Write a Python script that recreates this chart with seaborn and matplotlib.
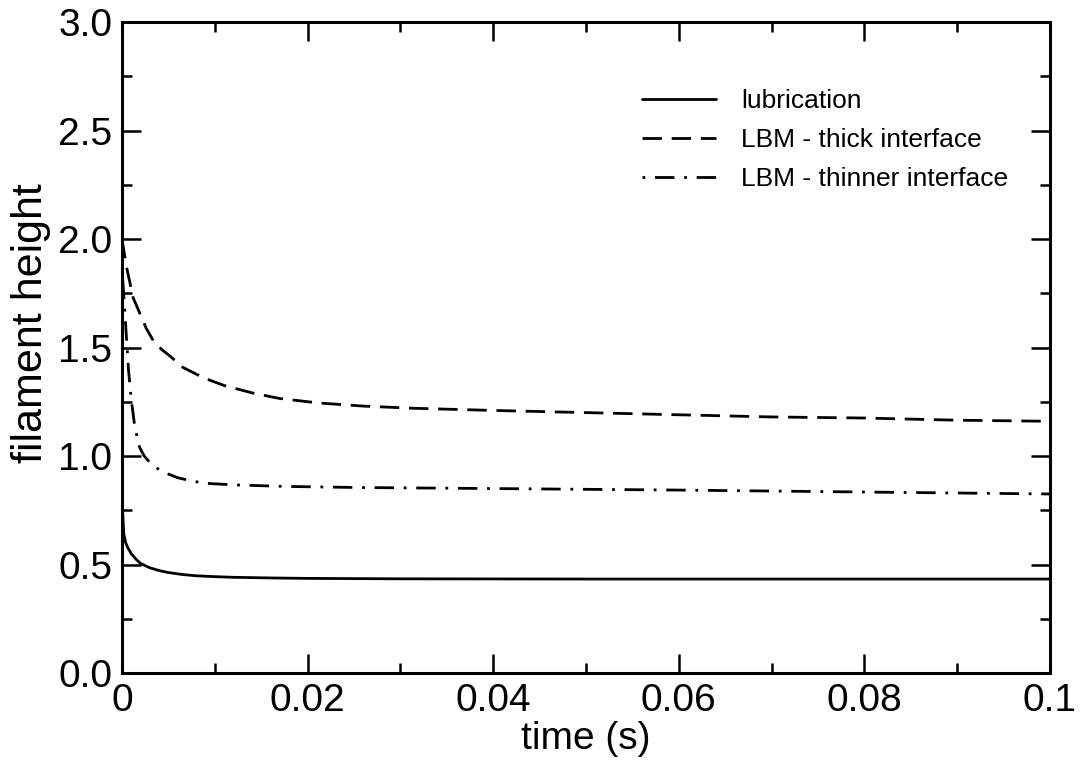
import numpy as np
import pandas as pd
import matplotlib
matplotlib.use("Agg")
import matplotlib.pyplot as plt
import seaborn as sns
from matplotlib.ticker import MultipleLocator

# datos
t_lub = [0, 0.0001, 0.0002, 0.0004, 0.0006, 0.001, 0.0015, 0.002, 0.003, 0.004,
         0.005, 0.0065, 0.008, 0.01, 0.012, 0.016, 0.02, 0.03, 0.05, 0.1]
h_lub = [0.85, 0.72, 0.64, 0.60, 0.58, 0.55, 0.525, 0.505, 0.485, 0.472,
         0.463, 0.454, 0.448, 0.444, 0.441, 0.438, 0.436, 0.434, 0.433, 0.433]

t_thick = [0, 0.0005, 0.0012, 0.0019, 0.0026, 0.0034, 0.0043, 0.0052, 0.0065, 0.0088,
           0.011, 0.0141, 0.017, 0.0213, 0.026, 0.0314, 0.04, 0.05, 0.06, 0.07,
           0.08, 0.09, 0.1]
h_thick = [2.0, 1.87, 1.73, 1.66, 1.59, 1.53, 1.49, 1.46, 1.41, 1.36,
           1.325, 1.29, 1.265, 1.244, 1.23, 1.22, 1.21, 1.20, 1.19, 1.18,
           1.175, 1.165, 1.16]

t_thin = [0, 0.0003, 0.0007, 0.001, 0.0014, 0.0019, 0.0024, 0.003, 0.0038, 0.0048,
          0.006, 0.0077, 0.0095, 0.012, 0.0174, 0.025, 0.04, 0.06, 0.08, 0.1]
h_thin = [1.87, 1.67, 1.40, 1.26, 1.13, 1.04, 1.0, 0.97, 0.943, 0.92,
          0.90, 0.883, 0.873, 0.867, 0.86, 0.855, 0.85, 0.843, 0.834, 0.825]

labels = ["lubrication", "LBM - thick interface", "LBM - thinner interface"]
x_ticks = [0, 0.02, 0.04, 0.06, 0.08, 0.1]
x_ticklabels = ["0", "0.02", "0.04", "0.06", "0.08", "0.1"]
y_ticks = [0.0, 0.5, 1.0, 1.5, 2.0, 2.5, 3.0]
y_ticklabels = ["0.0", "0.5", "1.0", "1.5", "2.0", "2.5", "3.0"]

sns.set_theme(style="ticks")
plt.rcParams['font.family'] = ['Liberation Sans', 'DejaVu Sans']
plt.rcParams['text.color'] = 'black'
plt.rcParams['axes.labelcolor'] = 'black'

fig, ax = plt.subplots(figsize=(10.85, 7.62), dpi=100)
fig.subplots_adjust(left=0.1124, right=0.9677, top=0.9711, bottom=0.1168)

lw = 2.0
sns.lineplot(x=t_lub, y=h_lub, ax=ax, color="black", linewidth=lw,
             linestyle="-", label=labels[0])
sns.lineplot(x=t_thick, y=h_thick, ax=ax, color="black", linewidth=lw,
             linestyle=(0, (7, 3.5)), label=labels[1])
sns.lineplot(x=t_thin, y=h_thin, ax=ax, color="black", linewidth=lw,
             linestyle=(0, (1, 3.5, 7, 3.5)), label=labels[2])

ax.set_xlim(0, 0.1)
ax.set_ylim(0, 3.0)
ax.set_xticks(x_ticks)
ax.set_xticklabels(x_ticklabels)
ax.set_yticks(y_ticks)
ax.set_yticklabels(y_ticklabels)
ax.xaxis.set_minor_locator(MultipleLocator(0.01))
ax.yaxis.set_minor_locator(MultipleLocator(0.25))

ax.tick_params(which="both", direction="in", top=True, right=True,
               colors="black", width=1.8)
ax.tick_params(which="major", length=14, labelsize=28, pad=7)
ax.tick_params(which="minor", length=7)
for s in ax.spines.values():
    s.set_linewidth(2.2)
    s.set_color("black")

ax.set_xlabel("time (s)", fontsize=28, labelpad=2)
ax.set_ylabel("filament height", fontsize=31)
ax.yaxis.set_label_coords(-0.076, 0.538)

ax.legend(loc="upper left", bbox_to_anchor=(0.5346, 0.933), frameon=False,
          fontsize=19, handlelength=2.8, handletextpad=0.95, labelspacing=0.56)

plt.savefig("out.png", dpi=100)
